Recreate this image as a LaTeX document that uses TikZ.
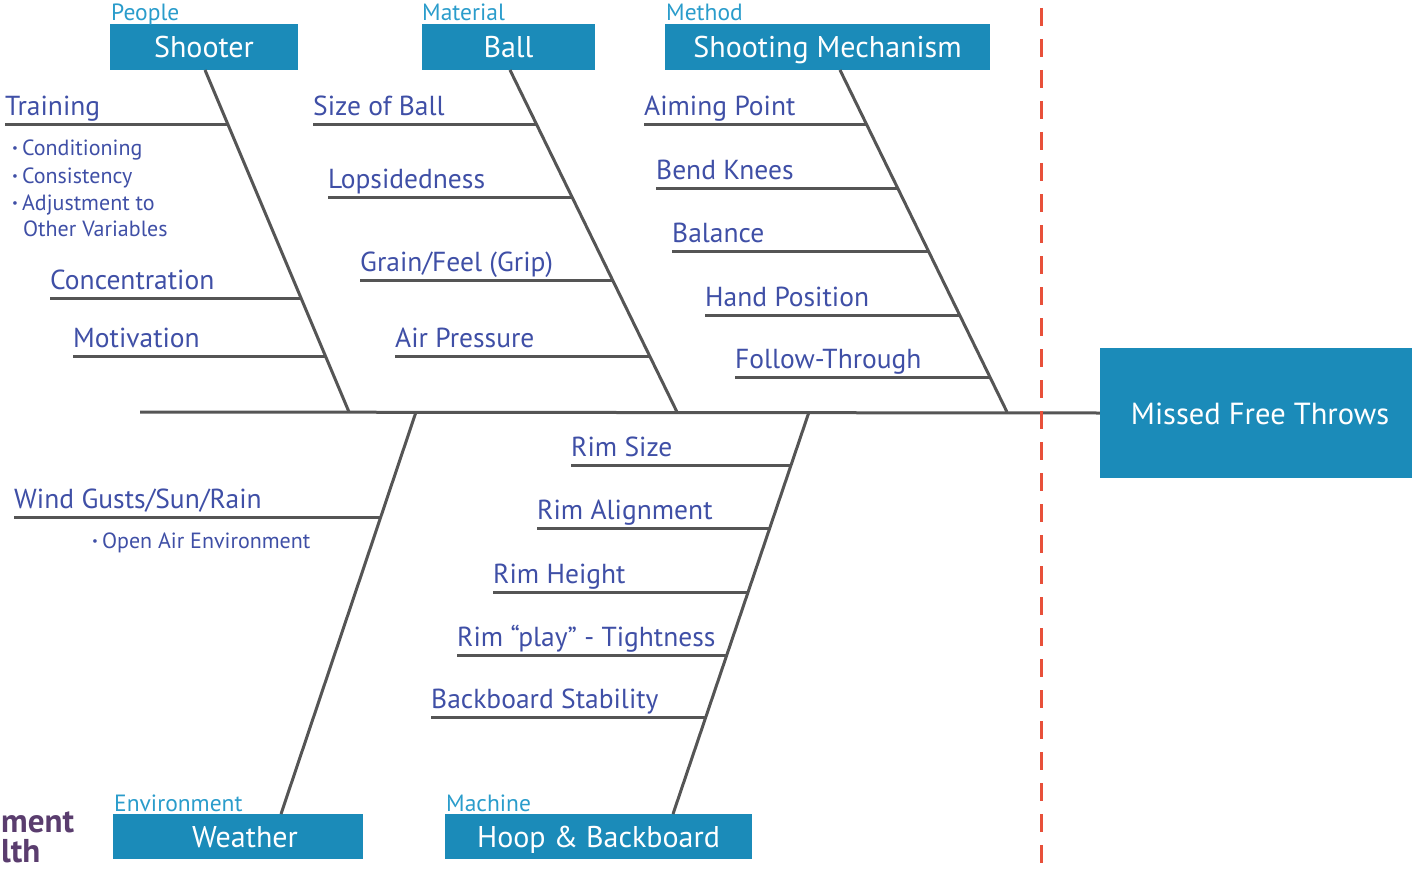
\documentclass[tikz,border=0pt]{standalone}
\usepackage{fontspec}
\setmainfont{PT Sans}
\definecolor{boxblue}{HTML}{1B8BB9}
\definecolor{catblue}{HTML}{2A9CCB}
\definecolor{causeblue}{HTML}{3F4FA6}
\definecolor{bonegray}{HTML}{555555}
\definecolor{cutred}{HTML}{E8503A}
\definecolor{brandpurple}{HTML}{5A3D6E}
\newcommand\smallbul{\raisebox{3pt}{\fontsize{13}{13}\selectfont •}\hspace{4pt}}
\begin{document}
\begin{tikzpicture}[x=1pt,y=-1pt,
  catbox/.style={fill=boxblue,text=white,inner sep=0,minimum height=46,
    text height=22,text depth=0,font=\fontsize{30}{32}\selectfont},
  catlabel/.style={text=catblue,anchor=base west,inner sep=0,
    font=\fontsize{23.5}{25}\selectfont},
  cause/.style={text=causeblue,anchor=base west,inner sep=0,
    font=\fontsize{27.5}{30}\selectfont},
  subcause/.style={text=causeblue,anchor=base west,inner sep=0,
    font=\fontsize{22}{24}\selectfont},
  brand/.style={text=brandpurple,anchor=base west,inner sep=0,
    text height=23,text depth=0,font=\fontsize{33}{35}\selectfont\bfseries},
  bone/.style={draw=bonegray,line width=3},
  rib/.style={draw=bonegray,line width=3}]
\useasboundingbox (0,0) rectangle (1412,869);

% effect box and spine
\node[fill=boxblue,text=white,inner sep=0,minimum width=330,minimum height=130,
  text height=22,text depth=0,font=\fontsize{30.5}{32}\selectfont] (effect)
  at (1265,413) {\hspace*{-10pt}Missed Free Throws};
\coordinate (tail) at (140,412);
\draw[bone] (tail) -- (effect.west);

% cut line
\coordinate (cuttop) at (1041,8);
\coordinate (cutbot) at (1041,869);
\draw[cutred,line width=3,dash pattern=on 18 off 13] (cuttop) -- (cutbot);

% category boxes
\node[catbox,minimum width=188] (shooter) at (204,47) {Shooter};
\node[catbox,minimum width=173] (ball) at (508.5,47) {Ball};
\node[catbox,minimum width=325] (method) at (827.5,47) {Shooting Mechanism};
\node[catbox,minimum width=250,minimum height=45] (weather) at (238,836.5) {\hspace*{14pt}Weather};
\node[catbox,minimum width=307,minimum height=45] (hoop) at (598.5,836.5) {Hoop \& Backboard};

\node[catlabel] (lpeople) at (111,21) {People};
\node[catlabel] (lmaterial) at (422,21) {Material};
\node[catlabel] (lmethod) at (666,21) {Method};
\node[catlabel] (lenv) at (114,811) {Environment};
\node[catlabel] (lmachine) at (446,811) {Machine};

% main bones
\coordinate (b1t) at (205,70);  \coordinate (b1s) at (349,412);
\coordinate (b2t) at (510,70);  \coordinate (b2s) at (677,412);
\coordinate (b3t) at (840,70);  \coordinate (b3s) at (1007,412);
\coordinate (b4s) at (416,412); \coordinate (b4b) at (281,814);
\coordinate (b5s) at (809,412); \coordinate (b5b) at (673,814);
\draw[bone] (b1t) -- (b1s);
\draw[bone] (b2t) -- (b2s);
\draw[bone] (b3t) -- (b3s);
\draw[bone] (b4s) -- (b4b);
\draw[bone] (b5s) -- (b5b);

% causes: name / left x / bone x / y / text
\foreach \n/\xl/\xr/\y/\t in {
  tr/5/228/125/Training,
  co/50/301/298/Concentration,
  mo/73/325/356/Motivation,
  sb/313/537/125/Size of Ball,
  lo/328/572/197/Lopsidedness,
  gr/360/612/280/{Grain/Feel (Grip)},
  ap/395/650/356/Air Pressure,
  ai/644/867/125/Aiming Point,
  bk/656/898/188/Bend Knees,
  ba/672/928/251/Balance,
  hp/705/960/315/Hand Position,
  ft/735/990/377/Follow-Through,
  wg/14/381/517/{Wind Gusts/Sun/Rain},
  rs/571/791/465/Rim Size,
  ra/537/770/528/Rim Alignment,
  rh/493/748/592/Rim Height,
  rp/457/727/655/{Rim “play” - Tightness},
  bs/431/706/717/Backboard Stability}
{
  \coordinate (\n-l) at (\xl,\y);
  \coordinate (\n-r) at (\xr,\y);
  \node[cause] (\n) at (\xl,\y-9) {\t};
  \draw[rib] (\n-l) -- (\n-r);
}

% sub-causes
\node[subcause] (c1) at (12,156) {\smallbul Conditioning};
\node[subcause] (c2) at (12,183) {\smallbul Consistency};
\node[subcause] (c3) at (12,210) {\smallbul Adjustment to};
\node[subcause] (c4) at (23,236) {Other Variables};
\node[subcause] (oa) at (92,548) {\smallbul Open Air Environment};

% brand text at the lower left
\node[brand] (brand1) at (1,832) {ment};
\node[brand] (brand2) at (1,862) {lth};
\end{tikzpicture}
\end{document}
